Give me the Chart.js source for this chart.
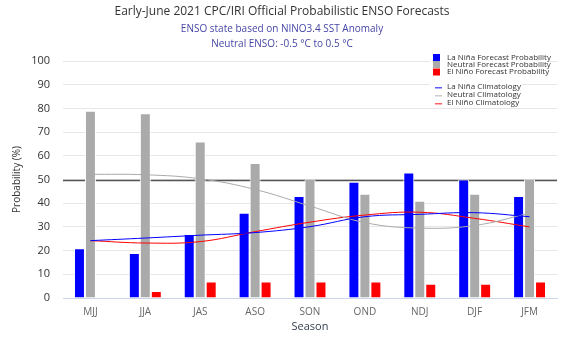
<!DOCTYPE html>
<html>
<head>
<meta charset="utf-8">
<script src="https://cdn.jsdelivr.net/npm/chart.js@4/dist/chart.umd.min.js"></script>
<style>
html,body{margin:0;padding:0;background:#fff;}
#wrap{width:581px;height:355px;position:relative;}
</style>
</head>
<body>
<div id="wrap"><canvas id="c" width="581" height="355"></canvas></div>
<script>
const seasons = ['MJJ','JJA','JAS','ASO','SON','OND','NDJ','DJF','JFM'];
const laNinaProb  = [21, 19, 27, 36, 43, 49, 53, 50, 43];
const neutralProb = [79, 78, 66, 57, 50, 44, 41, 44, 50];
const elNinoProb  = [0, 3, 7, 7, 7, 7, 6, 6, 7];
const laNinaClim  = [24.2, 25.3, 26.5, 27.6, 30.1, 34.3, 35.3, 36.0, 34.3];
const neutralClim = [52.2, 52.0, 50.3, 45.8, 38.8, 31.8, 29.5, 30.6, 35.8];
const elNinoClim  = [24.2, 23.2, 23.8, 28.0, 32.0, 35.0, 36.2, 33.6, 30.0];
const yTicks = [0,10,20,30,40,50,60,70,80,90,100];
const thresholdValue = 50;

const FONT = "'Open Sans', 'DejaVu Sans', sans-serif";

const legendItems = [
  {type:'box',  color:'#0000ff', label:'La Niña Forecast Probability'},
  {type:'box',  color:'#aaaaaa', label:'Neutral Forecast Probability'},
  {type:'box',  color:'#ff0000', label:'El Niño Forecast Probability'},
  {type:'line', color:'#5a5aff', label:'La Niña Climatology'},
  {type:'line', color:'#cccccc', label:'Neutral Climatology'},
  {type:'line', color:'#ff6060', label:'El Niño Climatology'}
];

const refLine = {
  id:'refLine',
  beforeDatasetsDraw(chart){
    const {ctx, chartArea, scales:{y}} = chart;
    const py = Math.round(y.getPixelForValue(thresholdValue)) + 0.5;
    ctx.save();
    ctx.strokeStyle = '#555555';
    ctx.lineWidth = 1.5;
    ctx.beginPath();
    ctx.moveTo(chartArea.left, py);
    ctx.lineTo(chartArea.right, py);
    ctx.stroke();
    ctx.restore();
  }
};

const customLegend = {
  id:'customLegend',
  afterDraw(chart){
    const ctx = chart.ctx;
    ctx.save();
    ctx.font = "8px " + FONT;
    ctx.textBaseline = 'middle';
    ctx.fillStyle = '#ffffff';
    ctx.fillRect(430, 52, 118, 24);
    ctx.fillRect(430, 82, 92, 24);
    const ys = [57.5, 64.5, 72, 87, 94.5, 102.5];
    legendItems.forEach((it, i) => {
      const yy = ys[i];
      if (it.type === 'box') {
        ctx.fillStyle = it.color;
        ctx.fillRect(433, yy - 3.5, 7, 7);
      } else {
        ctx.fillStyle = it.color;
        ctx.fillRect(435, Math.round(yy), 7, 1.5);
      }
      ctx.fillStyle = '#333333';
      ctx.textAlign = 'left';
      ctx.fillText(it.label, 447, yy);
    });
    ctx.restore();
  }
};

const lineDs = (label, data, color) => ({
  type:'line', label, data, borderColor:color, backgroundColor:color,
  borderWidth:1, pointRadius:0, tension:0.4, fill:false, order:0
});
const barDs = (label, data, color) => ({
  type:'bar', label, data, backgroundColor:color, borderColor:'#ffffff',
  borderWidth:1, order:1, categoryPercentage:0.6, barPercentage:1.0
});

new Chart(document.getElementById('c'), {
  data:{
    labels: seasons,
    datasets:[
      barDs('La Niña Forecast Probability', laNinaProb, '#0000ff'),
      barDs('Neutral Forecast Probability', neutralProb, '#aaaaaa'),
      barDs('El Niño Forecast Probability', elNinoProb, '#ff0000'),
      lineDs('La Niña Climatology', laNinaClim, '#0000ff'),
      lineDs('Neutral Climatology', neutralClim, '#aaaaaa'),
      lineDs('El Niño Climatology', elNinoClim, '#ff0000')
    ]
  },
  options:{
    responsive:false,
    animation:false,
    layout:{padding:{left:0, right:17, top:0, bottom:0}},
    plugins:{
      legend:{display:false},
      tooltip:{enabled:false},
      title:{display:true, text:'Early-June 2021 CPC/IRI Official Probabilistic ENSO Forecasts',
        color:'#333333', font:{family:FONT, size:12, weight:'normal', lineHeight:1.2},
        padding:{top:4.5, bottom:1.6}},
      subtitle:{display:true, text:['ENSO state based on NINO3.4 SST Anomaly','Neutral ENSO: -0.5 °C to 0.5 °C'],
        color:'#4646a6', font:{family:FONT, size:10, weight:'normal', lineHeight:'15px'},
        padding:{top:1, bottom:9.5}}
    },
    scales:{
      x:{
        grid:{display:false, drawTicks:false},
        border:{display:true, color:'#ccd6eb', width:1},
        ticks:{color:'#666666', font:{family:FONT, size:10}, padding:8},
        title:{display:true, text:'Season', color:'#333f4f', font:{family:FONT, size:11}, padding:{top:0,bottom:22}},
        afterFit(s){ s.height = 57; }
      },
      y:{
        min:0, max:100,
        afterBuildTicks(s){ s.ticks = yTicks.map(v => ({value:v})); },
        grid:{color:'#e6e6e6', drawTicks:false},
        border:{display:false},
        ticks:{color:'#333333', font:{family:FONT, size:11}, padding:13},
        title:{display:true, text:'Probability (%)', color:'#333333', font:{family:FONT, size:10}, padding:{top:11,bottom:0}},
        afterFit(s){ s.width = 63; }
      },
      yRightSpacer:{
        position:'right', display:true, min:0, max:100,
        grid:{display:false, drawTicks:false}, border:{display:false},
        ticks:{display:false},
        afterFit(s){ s.width = 7; }
      }
    }
  },
  plugins:[refLine, customLegend]
});
</script>
</body>
</html>
